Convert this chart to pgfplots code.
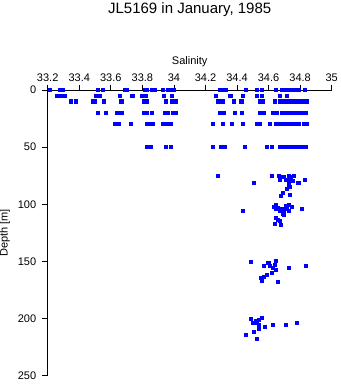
\documentclass[border=0pt]{standalone}
\usepackage{pgfplots}
\pgfplotsset{compat=1.18}
\usepackage{pgfplotstable}
\usepackage{fontspec}
\setmainfont{Liberation Sans}
\pgfplotstableread{
sal depth
33.216 0
33.280 0
33.299 0
33.520 0
33.548 0
33.690 0
33.702 0
33.815 0
33.830 0
33.860 0
33.881 0
33.932 0
33.965 0
33.975 0
33.999 0
34.290 0
34.320 0
34.330 0
34.459 0
34.529 0
34.558 0
34.649 0
34.683 0
34.690 0
34.700 0
34.710 0
34.720 0
34.730 0
34.740 0
34.750 0
34.760 0
34.770 0
34.780 0
34.792 0
34.830 0
33.262 5
33.288 5
33.309 5
33.506 5
33.531 5
33.660 5
33.738 5
33.799 5
33.820 5
33.938 5
33.989 5
34.265 5
34.358 5
34.438 5
34.529 5
34.558 5
34.670 5
34.719 5
33.347 10
33.379 10
33.489 10
33.501 10
33.558 10
33.668 10
33.811 10
33.828 10
33.949 10
33.991 10
34.010 10
34.280 10
34.308 10
34.379 10
34.428 10
34.546 10
34.561 10
34.641 10
34.670 10
34.683 10
34.690 10
34.700 10
34.710 10
34.720 10
34.730 10
34.740 10
34.750 10
34.760 10
34.770 10
34.780 10
34.790 10
34.800 10
34.808 10
34.830 10
34.843 10
33.520 20
33.571 20
33.639 20
33.668 20
33.811 20
33.827 20
33.860 20
33.941 20
33.959 20
33.997 20
34.012 20
34.290 20
34.318 20
34.387 20
34.430 20
34.546 20
34.569 20
34.628 20
34.651 20
34.683 20
34.690 20
34.700 20
34.710 20
34.720 20
34.730 20
34.740 20
34.750 20
34.760 20
34.770 20
34.780 20
34.790 20
34.800 20
34.810 20
34.820 20
34.830 20
34.839 20
33.628 30
33.649 30
33.729 30
33.830 30
33.852 30
33.868 30
33.932 30
33.949 30
33.966 30
33.978 30
34.248 30
34.311 30
34.368 30
34.438 30
34.527 30
34.544 30
34.609 30
34.647 30
34.664 30
34.683 30
34.690 30
34.700 30
34.710 30
34.720 30
34.730 30
34.740 30
34.750 30
34.760 30
34.770 30
34.780 30
34.789 30
34.827 30
34.843 30
33.830 50
33.852 50
33.949 50
33.980 50
34.248 50
34.299 50
34.320 50
34.451 50
34.590 50
34.620 50
34.670 50
34.680 50
34.690 50
34.700 50
34.710 50
34.720 50
34.730 50
34.740 50
34.750 50
34.760 50
34.770 50
34.780 50
34.789 50
34.818 50
34.835 50
34.280 75.3
34.620 75.3
34.664 75.3
34.681 75.8
34.696 76.4
34.670 78.8
34.708 78.8
34.729 75.3
34.744 75.8
34.761 75.3
34.734 78.1
34.755 79.3
34.790 81.1
34.830 78.8
34.508 81.1
34.729 81.7
34.729 84.0
34.717 86.9
34.738 85.2
34.690 89.8
34.679 92.8
34.738 92.2
34.438 106.2
34.632 102.1
34.649 100.9
34.659 103.3
34.675 104.4
34.645 104.4
34.670 105.9
34.687 103.9
34.708 101.5
34.729 100.4
34.748 102.1
34.713 104.4
34.729 106.2
34.696 107.3
34.691 108.5
34.700 109.7
34.810 104.4
34.645 112.3
34.658 113.8
34.670 114.9
34.641 117.3
34.679 118.4
34.489 150.8
34.571 154.0
34.599 151.1
34.609 154.0
34.628 156.1
34.641 153.1
34.649 149.9
34.645 157.5
34.729 156.1
34.837 154.0
34.588 161.9
34.571 163.9
34.550 164.8
34.558 166.9
34.622 159.8
34.659 168.0
34.489 200.7
34.523 201.9
34.539 201.3
34.558 199.8
34.501 203.6
34.527 203.6
34.539 205.9
34.539 209.4
34.577 207.7
34.628 205.6
34.708 205.9
34.780 203.6
34.459 214.1
34.508 212.0
34.527 217.6
}\datatable
\begin{document}
\begin{tikzpicture}
\begin{axis}[
  name=ax,
  scale only axis,
  width=284pt, height=285.7pt,
  xmin=33.2, xmax=35, ymin=0, ymax=250,
  y dir=reverse,
  axis x line*=top, axis y line*=left,
  axis line style={black, line width=0.8pt, -},
  every tick/.style={black, line width=0.8pt},
  tick align=outside,
  major tick length=5.5pt,
  xtick={33.2,33.4,33.6,33.8,34,34.2,34.4,34.6,34.8,35},
  ytick={0,50,100,150,200,250},
  /pgf/number format/assume math mode=true,
  ticklabel style={font=\fontsize{11}{11}\selectfont},
  xticklabel style={anchor=base, yshift=3pt},
  yticklabel style={xshift=-2.5pt},
  clip=false,
  title={JL5169 in January, 1985},
  every axis title/.style={at={(axis description cs:0.5,1)}, anchor=base, yshift=77pt, inner sep=0pt, font=\fontsize{15}{15}\selectfont},
  xlabel={Salinity},
  xlabel style={at={(axis description cs:0.5,1)}, anchor=base, yshift=26pt, inner sep=0pt, font=\fontsize{11}{11}\selectfont},
  ylabel={Depth [m]},
  ylabel style={at={([xshift=-40pt]axis description cs:0,0.5)}, anchor=base, inner sep=0pt, font=\fontsize{11}{11}\selectfont},
]
\addplot[only marks, mark=square*, mark size=1.6pt, mark options={fill=blue, draw=blue, line width=0pt}] table[x=sal, y=depth] {\datatable};
\end{axis}
\pgfresetboundingbox
\path (ax.south west) ++(-47.7pt,-8.3pt) rectangle ++(341pt,384pt);
\end{tikzpicture}
\end{document}
